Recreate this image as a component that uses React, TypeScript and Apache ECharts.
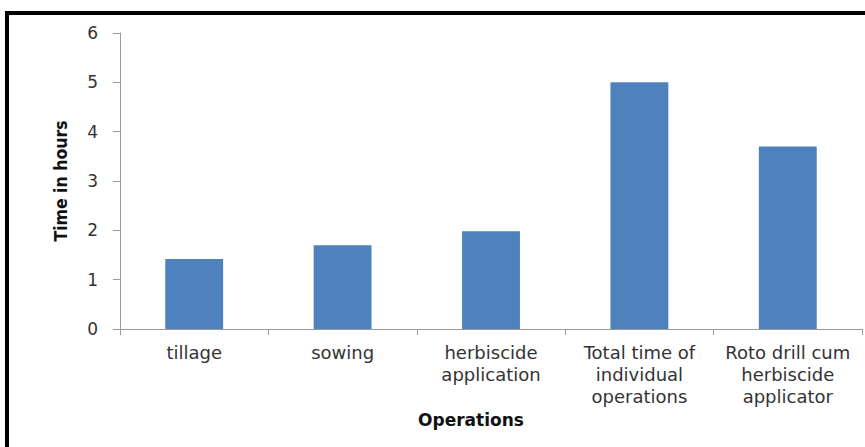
import React, { useEffect, useRef } from "react";
import * as echarts from "echarts";

const categories: string[] = [
  "tillage",
  "sowing",
  "herbiscide\napplication",
  "Total time of\nindividual\noperations",
  "Roto drill cum\nherbiscide\napplicator",
];
const timeHours: number[] = [1.42, 1.7, 1.98, 5.0, 3.7];
const yTicks = { min: 0, max: 6, interval: 1 };

export default function App() {
  const ref = useRef<HTMLDivElement>(null);
  useEffect(() => {
    document.body.style.margin = "0";
    const chart = echarts.init(ref.current!, null, { renderer: "svg" });
    chart.setOption({
      animation: false,
      backgroundColor: "#ffffff",
      textStyle: { fontFamily: "DejaVu Sans" },
      grid: { left: 120, right: 3, top: 33, bottom: 118, containLabel: false },
      xAxis: {
        type: "category",
        data: categories,
        name: "Operations",
        nameLocation: "middle",
        nameGap: 79,
        nameTextStyle: {
          fontSize: 17,
          fontWeight: "bold",
          color: "#111",
          fontFamily: "DejaVu Sans",
          padding: [0, 40, 0, 0],
        },
        axisLine: { lineStyle: { color: "#9a9a9a", width: 1 } },
        axisTick: { show: true, alignWithLabel: false, length: 6, lineStyle: { color: "#9a9a9a" } },
        axisLabel: {
          fontSize: 18,
          color: "#333",
          lineHeight: 22,
          margin: 12,
          interval: 0,
          fontFamily: "DejaVu Sans",
        },
      },
      yAxis: {
        type: "value",
        min: yTicks.min,
        max: yTicks.max,
        interval: yTicks.interval,
        name: "Time in hours",
        nameLocation: "middle",
        nameGap: 50,
        nameTextStyle: {
          fontSize: 17.5,
          fontWeight: "bold",
          color: "#111",
          fontFamily: "DejaVu Sans Condensed",
        },
        axisLine: { show: true, lineStyle: { color: "#9a9a9a", width: 1 } },
        axisTick: { show: true, length: 7, lineStyle: { color: "#9a9a9a" } },
        splitLine: { show: false },
        axisLabel: { fontSize: 17, color: "#333", margin: 22, fontFamily: "DejaVu Sans" },
      },
      series: [
        {
          type: "bar",
          data: timeHours,
          barWidth: "39%",
          itemStyle: { color: "#4f81bd" },
        },
      ],
      graphic: [
        {
          type: "rect",
          shape: { x: 7, y: 13, width: 900, height: 500 },
          style: { fill: "none", stroke: "#000", lineWidth: 4 },
          silent: true,
          z: 100,
        },
      ],
    });
    return () => chart.dispose();
  }, []);
  return <div ref={ref} style={{ width: 865, height: 447 }} />;
}
